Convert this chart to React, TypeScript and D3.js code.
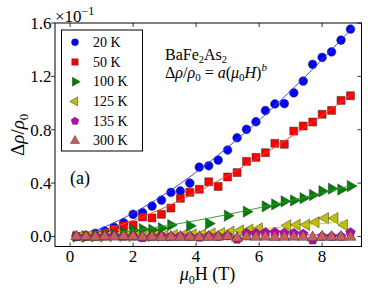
import * as d3 from 'd3';
import { useEffect, useRef } from 'react';

// field values (T) and magnetoresistance (units of 1e-1)
const fieldMain = [0.2, 0.5, 0.8, 1.1, 1.4, 1.7, 2.0, 2.3, 2.6, 2.9, 3.2, 3.5, 3.8, 4.1, 4.4, 4.7, 5.0, 5.3, 5.6, 5.9, 6.2, 6.5, 6.8, 7.1, 7.4, 7.7, 8.0, 8.3, 8.6, 8.9];
const field100K = [0.2, 0.5, 0.8, 1.1, 1.4, 1.7, 2.0, 2.3, 2.6, 2.9, 3.2, 3.8, 4.4, 5.0, 5.6, 6.2, 6.5, 6.8, 7.1, 7.4, 7.7, 8.0, 8.3, 8.6, 8.9];
const field125K = [0.3, 0.6, 0.9, 1.2, 1.5, 1.8, 2.1, 2.4, 2.7, 3.0, 3.3, 3.6, 3.9, 4.2, 4.5, 4.8, 5.1, 5.4, 5.7, 6.0, 6.9, 7.2, 7.5, 7.8, 8.1, 8.4, 8.7];

const mr20K = [0.0, 0.006, 0.024, 0.041, 0.069, 0.103, 0.166, 0.178, 0.228, 0.273, 0.33, 0.341, 0.4, 0.52, 0.53, 0.573, 0.648, 0.74, 0.803, 0.86, 0.944, 0.993, 0.996, 1.077, 1.165, 1.29, 1.342, 1.384, 1.472, 1.554];
const mr50K = [0.0, 0.004, 0.011, 0.026, 0.056, 0.079, 0.086, 0.146, 0.139, 0.166, 0.213, 0.286, 0.331, 0.354, 0.41, 0.375, 0.446, 0.479, 0.563, 0.593, 0.628, 0.698, 0.691, 0.79, 0.828, 0.858, 0.916, 0.945, 1.02, 1.055];
const mr100K = [0.0, 0.0, 0.005, 0.01, 0.015, 0.03, 0.045, 0.055, 0.05, 0.062, 0.086, 0.079, 0.097, 0.156, 0.186, 0.226, 0.24, 0.264, 0.27, 0.287, 0.311, 0.339, 0.358, 0.352, 0.378];
const mr125K = [0.0, 0.002, 0.0, 0.003, 0.004, 0.003, 0.005, 0.004, 0.006, 0.007, 0.011, 0.011, 0.015, 0.016, 0.022, 0.026, 0.036, 0.045, 0.052, 0.06, 0.083, 0.087, 0.088, 0.107, 0.137, 0.137, 0.086];
const mr135K = [0.0, 0.0, 0.0, 0.002, 0.005, 0.0, 0.002, -0.01, 0.0, 0.003, 0.0, 0.002, 0.0, -0.005, 0.003, 0.0, 0.005, -0.02, 0.024, 0.024, 0.03, 0.031, 0.026, 0.024, 0.019, -0.026, 0.0, 0.0, 0.0, 0.03];
const mr300K = [0.0, 0.0, -0.003, 0.0, -0.002, 0.002, 0.0, -0.004, -0.002, -0.005, -0.003, -0.004, -0.003, -0.005, -0.004, -0.003, 0.002, -0.012, -0.002, -0.004, -0.003, -0.005, -0.004, -0.003, -0.004, -0.008, -0.002, -0.004, -0.003, -0.004];

// power-law fit a * (mu0 H)^b per temperature
const fitA = [0.0637, 0.0438, 0.016, 0.00198, 0.0006];
const fitB = [1.46, 1.457, 1.45, 1.87, 1.5];
const fitEnd = [9.0, 9.0, 8.9, 8.7, 9.0];

const labels = ['20 K', '50 K', '100 K', '125 K', '135 K', '300 K'];
const colors = ['#0000ff', '#ff0000', '#008000', '#bfbf00', '#bf00bf', '#cd5c5c'];
const lineColors = ['#3a3aff', '#ff3a3a', '#2a9a2a', '#c8c820', '#cc30cc'];
const markers = ['circle', 'square', 'right', 'left', 'pentagon', 'up'];

const xTicks = [0, 2, 4, 6, 8];
const yTicks = [0.0, 0.4, 0.8, 1.2, 1.6];

const W = 382;
const H = 288;
const margin = { left: 55, right: 20.5, top: 23, bottom: 41.5 };
const FONT = 'Liberation Serif, DejaVu Serif, Times New Roman, serif';

function markerPath(kind: string, s: number): string {
  if (kind === 'circle') return d3.symbol(d3.symbolCircle, 60 * s * s)() || '';
  if (kind === 'square') return d3.symbol(d3.symbolSquare, 64 * s * s)() || '';
  if (kind === 'pentagon') {
    const r = 5 * s;
    const pts = d3.range(5).map((i) => {
      const a = -Math.PI / 2 + (i * 2 * Math.PI) / 5;
      return [r * Math.cos(a), r * Math.sin(a)];
    });
    return 'M' + pts.map((p) => p.join(',')).join('L') + 'Z';
  }
  return d3.symbol(d3.symbolTriangle, 55 * s * s)() || '';
}

function markerRotation(kind: string): number {
  if (kind === 'right') return 90;
  if (kind === 'left') return -90;
  return 0;
}

export default function App(): React.ReactElement {
  const svgRef = useRef<SVGSVGElement>(null);

  useEffect(() => {
    if (!svgRef.current) return;
    const svg = d3.select(svgRef.current);
    svg.selectAll('*').remove();

    const x = d3.scaleLinear().domain([-0.48, 9.25]).range([margin.left, W - margin.right]);
    const y = d3.scaleLinear().domain([-0.075, 1.6]).range([H - margin.bottom, margin.top]);

    const series = [
      { fields: fieldMain, values: mr20K },
      { fields: fieldMain, values: mr50K },
      { fields: field100K, values: mr100K },
      { fields: field125K, values: mr125K },
      { fields: fieldMain, values: mr135K },
      { fields: fieldMain, values: mr300K },
    ];

    svg.append('rect').attr('width', W).attr('height', H).attr('fill', '#fff');

    const plot = svg.append('g');

    // Data markers and fit curves
    series.forEach((s, i) => {
      const path = markerPath(markers[i], 1);
      const rot = markerRotation(markers[i]);
      plot
        .append('g')
        .selectAll('path')
        .data(s.fields.map((f, j) => [f, s.values[j]]))
        .enter()
        .append('path')
        .attr('d', path)
        .attr('transform', (d) => `translate(${x(d[0])},${y(d[1])}) rotate(${rot})`)
        .attr('fill', colors[i])
        .attr('stroke', '#333')
        .attr('stroke-width', 0.5);

      if (i < fitA.length) {
        const hs = d3.range(0.05, fitEnd[i] + 0.001, 0.05);
        const line = d3
          .line<number>()
          .x((h) => x(h))
          .y((h) => y(fitA[i] * Math.pow(h, fitB[i])));
        plot
          .append('path')
          .attr('d', line(hs) || '')
          .attr('fill', 'none')
          .attr('stroke', lineColors[i])
          .attr('stroke-width', 1);
      }
    });

    // Frame
    const x0 = margin.left;
    const x1 = W - margin.right;
    const y0 = H - margin.bottom;
    const y1 = margin.top;
    svg
      .append('rect')
      .attr('x', x0)
      .attr('y', y1)
      .attr('width', x1 - x0)
      .attr('height', y0 - y1)
      .attr('fill', 'none')
      .attr('stroke', '#000')
      .attr('stroke-width', 1);

    const ticks = svg.append('g').attr('stroke', '#000').attr('stroke-width', 0.8);
    xTicks.forEach((t) => {
      ticks.append('line').attr('x1', x(t)).attr('x2', x(t)).attr('y1', y0).attr('y2', y0 - 4);
      ticks.append('line').attr('x1', x(t)).attr('x2', x(t)).attr('y1', y1).attr('y2', y1 + 4);
    });
    yTicks.forEach((t) => {
      ticks.append('line').attr('x1', x0 - 4).attr('x2', x0).attr('y1', y(t)).attr('y2', y(t));
      ticks.append('line').attr('x1', x1 - 4).attr('x2', x1).attr('y1', y(t)).attr('y2', y(t));
    });

    const txt = svg.append('g').attr('font-family', FONT).attr('fill', '#000');

    txt
      .append('g')
      .selectAll('text')
      .data(xTicks)
      .enter()
      .append('text')
      .attr('x', (d) => x(d))
      .attr('y', 262)
      .attr('text-anchor', 'middle')
      .attr('font-size', 17)
      .text((d) => String(d));

    txt
      .append('g')
      .selectAll('text')
      .data(yTicks)
      .enter()
      .append('text')
      .attr('x', 51.5)
      .attr('y', (d) => y(d) + 6)
      .attr('text-anchor', 'end')
      .attr('font-size', 17)
      .text((d) => d.toFixed(1));

    // Offset text x10^-1
    const off = txt.append('text').attr('x', 55).attr('y', 21.5).attr('font-size', 17);
    off.append('tspan').text('×10');
    off.append('tspan').attr('dy', -7).attr('font-size', 12).text('−1');

    // Axis labels
    const xl = txt
      .append('text')
      .attr('x', 207.5)
      .attr('y', 280)
      .attr('text-anchor', 'middle')
      .attr('font-size', 18);
    xl.append('tspan').attr('font-style', 'italic').text('μ');
    xl.append('tspan').attr('dy', 4).attr('font-size', 12).text('0');
    xl.append('tspan').attr('dy', -4).text('H (T)');

    const yl = txt
      .append('text')
      .attr('transform', `translate(24,${(y0 + y1) / 2}) rotate(-90)`)
      .attr('text-anchor', 'middle')
      .attr('font-size', 19);
    yl.append('tspan').text('Δ');
    yl.append('tspan').attr('font-style', 'italic').text('ρ');
    yl.append('tspan').text('/');
    yl.append('tspan').attr('font-style', 'italic').text('ρ');
    yl.append('tspan').attr('dy', 4).attr('font-size', 13).text('0');

    // Annotations
    const ann = txt.append('g').attr('font-size', 16);
    const t1 = ann.append('text').attr('x', 165).attr('y', 60);
    t1.append('tspan').text('BaFe');
    t1.append('tspan').attr('dy', 2.5).attr('font-size', 10.5).text('2');
    t1.append('tspan').attr('dy', -2.5).text('As');
    t1.append('tspan').attr('dy', 2.5).attr('font-size', 10.5).text('2');

    const t2 = ann.append('text').attr('x', 165).attr('y', 77.5);
    t2.append('tspan').text('Δ');
    t2.append('tspan').attr('font-style', 'italic').text('ρ');
    t2.append('tspan').text('/');
    t2.append('tspan').attr('font-style', 'italic').text('ρ');
    t2.append('tspan').attr('dy', 3).attr('font-size', 11).text('0');
    t2.append('tspan').attr('dy', -3).text(' = ');
    t2.append('tspan').attr('font-style', 'italic').text('a');
    t2.append('tspan').text('(');
    t2.append('tspan').attr('font-style', 'italic').text('μ');
    t2.append('tspan').attr('dy', 3).attr('font-size', 11).text('0');
    t2.append('tspan').attr('dy', -3).attr('font-style', 'italic').text('H');
    t2.append('tspan').text(')');
    t2.append('tspan').attr('dy', -7).attr('font-size', 11).attr('font-style', 'italic').text('b');

    txt.append('text').attr('x', 70).attr('y', 184).attr('font-size', 18).text('(a)');

    // Legend
    const lg = svg.append('g');
    lg.append('rect')
      .attr('x', 61.5)
      .attr('y', 30)
      .attr('width', 81)
      .attr('height', 121)
      .attr('fill', '#fff')
      .attr('stroke', '#000')
      .attr('stroke-width', 1);
    labels.forEach((lab, i) => {
      const cy = 42.3 + i * 19.7;
      lg.append('path')
        .attr('d', markerPath(markers[i], 0.8))
        .attr('transform', `translate(75,${cy}) rotate(${markerRotation(markers[i])})`)
        .attr('fill', colors[i])
        .attr('stroke', '#333')
        .attr('stroke-width', 0.5);
      lg.append('text')
        .attr('x', 93)
        .attr('y', cy + 4.5)
        .attr('font-family', FONT)
        .attr('font-size', 14)
        .text(lab);
    });
  }, []);

  return (
    <svg
      ref={svgRef}
      width={W}
      height={H}
      style={{ position: 'absolute', left: 0, top: 0 }}
    />
  );
}
